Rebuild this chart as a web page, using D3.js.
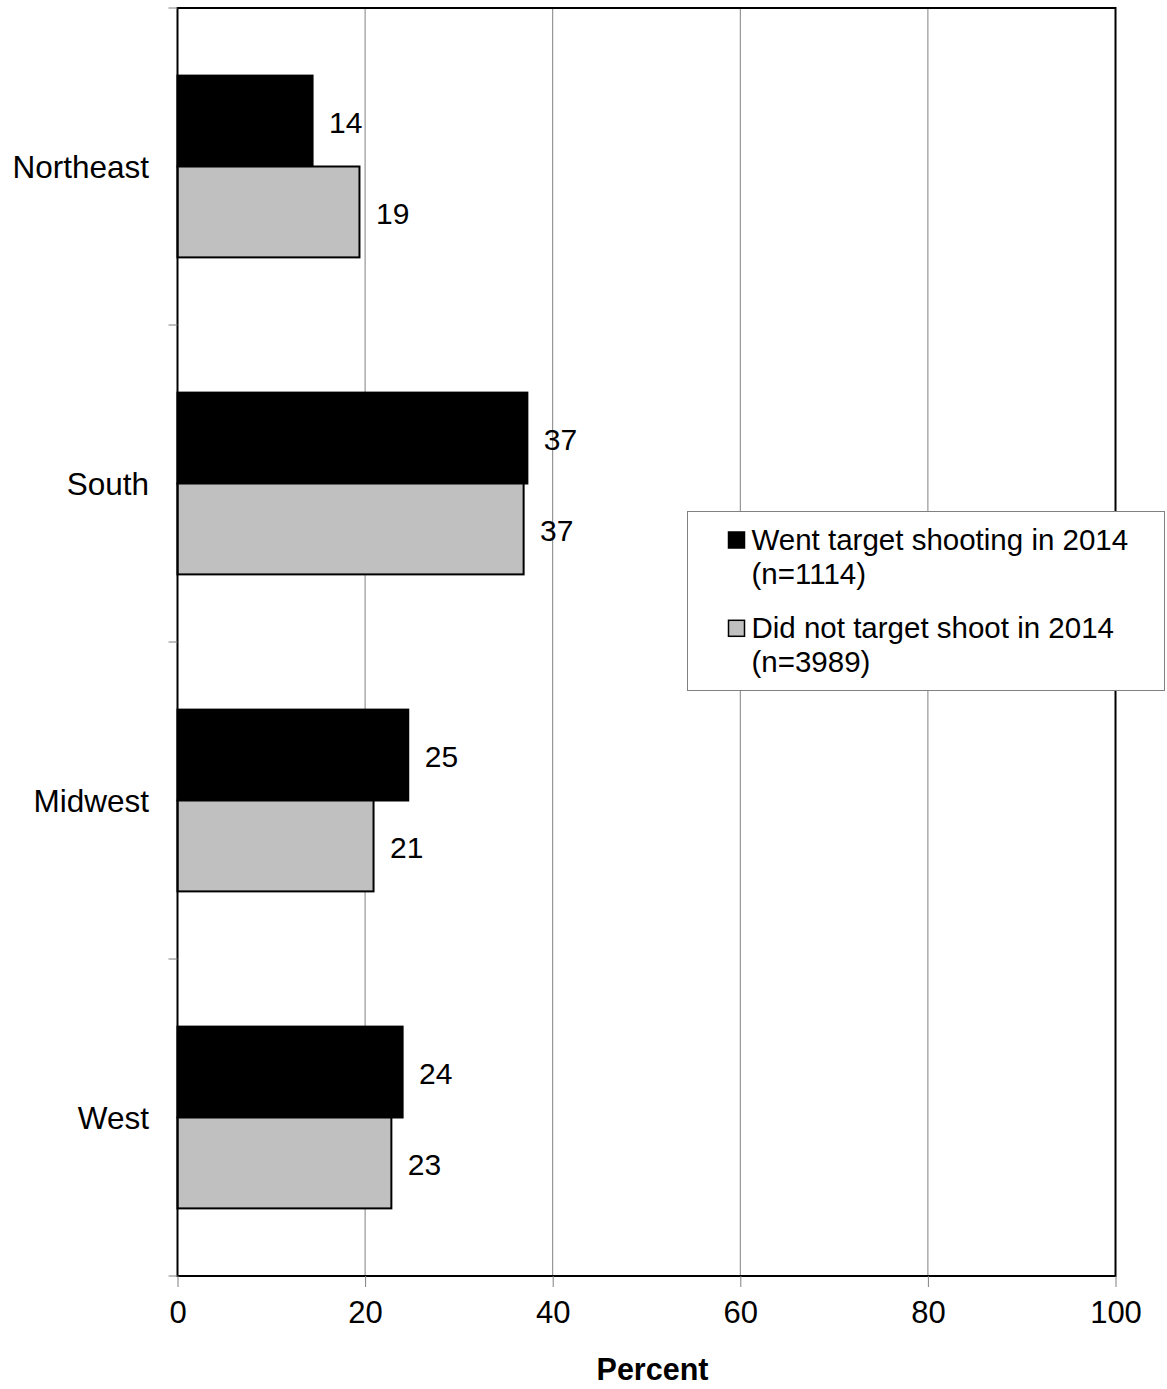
<!DOCTYPE html>
<html>
<head>
<meta charset="utf-8">
<script src="https://cdn.jsdelivr.net/npm/d3@7"></script>
<style>
  html, body { margin: 0; padding: 0; background: #fff; }
  svg { display: block; font-family: "Liberation Sans", Arial, sans-serif; }
</style>
</head>
<body>
<svg id="chart" width="1167" height="1389"></svg>
<script>
// Regions shown as horizontal bar groups
const regions = ["Northeast", "South", "Midwest", "West"];
// Percent of respondents in each region
const wentShooting = [14.4, 37.3, 24.6, 24.0];
const didNotShoot = [19.4, 36.9, 20.9, 22.8];
const seriesNames = ["Went target shooting in 2014", "Did not target shoot in 2014"];
const seriesCounts = ["(n=1114)", "(n=3989)"];
const xTicks = [0, 20, 40, 60, 80, 100];
const axisTitle = "Percent";

const svg = d3.select("#chart");
const plot = { left: 177.5, right: 1115.5, top: 8, bottom: 1276 };

const x = d3.scaleLinear().domain([0, 100]).range([plot.left, plot.right]);
const y = d3.scaleBand().domain(regions).range([plot.top, plot.bottom]).paddingInner(0).paddingOuter(0);
const inner = d3.scaleBand().domain([0, 1]).range([0, y.bandwidth()]).paddingOuter(0.7438).paddingInner(0);

const fills = ["#000000", "#c0c0c0"];
const series = [wentShooting, didNotShoot];

// Vertical gridlines
svg.append("g")
  .selectAll("line")
  .data(xTicks.filter(t => t > 0 && t < 100))
  .join("line")
  .attr("x1", d => x(d)).attr("x2", d => x(d))
  .attr("y1", plot.top).attr("y2", plot.bottom)
  .attr("stroke", "#808080").attr("stroke-width", 1);

// Bars with value labels
regions.forEach((r, i) => {
  series.forEach((vals, s) => {
    svg.append("rect")
      .attr("x", x(0))
      .attr("y", y(r) + inner(s))
      .attr("width", x(vals[i]) - x(0))
      .attr("height", inner.bandwidth())
      .attr("fill", fills[s])
      .attr("stroke", "#000").attr("stroke-width", 2);
    svg.append("text")
      .attr("x", x(vals[i]) + 16.5)
      .attr("y", y(r) + inner(s) + inner.bandwidth() / 2)
      .attr("dy", "0.4em")
      .attr("font-size", 30)
      .attr("fill", "#000")
      .text(Math.round(vals[i]));
  });
});

// Plot frame
svg.append("rect")
  .attr("x", plot.left).attr("y", plot.top)
  .attr("width", plot.right - plot.left).attr("height", plot.bottom - plot.top)
  .attr("fill", "none").attr("stroke", "#000").attr("stroke-width", 2);

// Bottom axis
const xAxis = d3.axisBottom(x).tickValues(xTicks).tickSize(11).tickPadding(14).tickSizeOuter(0);
const gx = svg.append("g").attr("transform", `translate(0,${plot.bottom})`).call(xAxis);
gx.select(".domain").remove();
gx.selectAll(".tick line").attr("stroke", "#808080");
gx.selectAll(".tick text").attr("font-size", 31).attr("fill", "#000")
  .attr("font-family", "'Liberation Sans', Arial, sans-serif");

// Left axis: ticks at category boundaries, labels at category centers
const bounds = regions.map(r => y(r)).concat([plot.bottom]);
svg.append("g").selectAll("line").data(bounds).join("line")
  .attr("x1", plot.left - 9).attr("x2", plot.left)
  .attr("y1", d => d).attr("y2", d => d)
  .attr("stroke", "#808080").attr("stroke-width", 1);
svg.append("g").selectAll("text").data(regions).join("text")
  .attr("x", 149)
  .attr("y", d => y(d) + y.bandwidth() / 2)
  .attr("dy", "0.36em")
  .attr("text-anchor", "end")
  .attr("font-size", 31.5)
  .text(d => d);

// Axis title
svg.append("text")
  .attr("x", 652.5)
  .attr("y", 1379.5)
  .attr("text-anchor", "middle")
  .attr("font-size", 30.5).attr("font-weight", "bold")
  .text(axisTitle);

// Legend
const lg = svg.append("g").attr("transform", "translate(687.5,511.5)");
lg.append("rect").attr("width", 477).attr("height", 179)
  .attr("fill", "#fff").attr("stroke", "#808080").attr("stroke-width", 1);
const rowBaselines = [38.5, 126.8];
seriesNames.forEach((name, s) => {
  const ry = rowBaselines[s];
  lg.append("rect").attr("x", 41).attr("y", ry - 18).attr("width", 16).attr("height", 16)
    .attr("fill", fills[s]).attr("stroke", "#000").attr("stroke-width", 1.5);
  lg.append("text").attr("x", 64).attr("y", ry).attr("font-size", 29.5).text(name);
  lg.append("text").attr("x", 64).attr("y", ry + 34).attr("font-size", 29.5).text(seriesCounts[s]);
});
</script>
</body>
</html>
